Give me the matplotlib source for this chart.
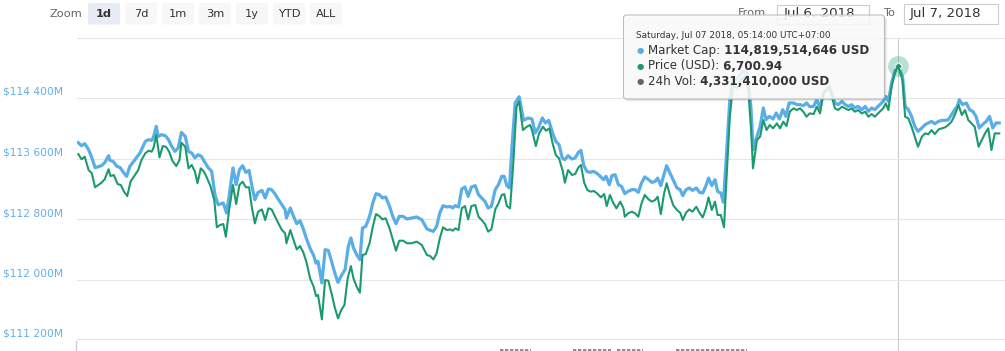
import matplotlib.pyplot as plt
import matplotlib.transforms as mtransforms
from matplotlib.patches import FancyBboxPatch, Rectangle

# minutes after Jul 6 2018 08:00 (UTC+07:00), market cap in million USD
cap_minutes = [
    2, 7, 12, 18, 23, 28, 38, 43, 49, 51,
    56, 62, 67, 72, 77, 82, 90, 98, 106, 111,
    116, 119, 123, 126, 131, 137, 142, 147, 152, 157,
    162, 168, 173, 178, 183, 188, 193, 199, 204, 209,
    214, 219, 227, 232, 236, 242, 247, 252, 257, 262,
    267, 271, 276, 281, 287, 292, 297, 302, 307, 312,
    318, 323, 325, 331, 336, 341, 346, 351, 356, 362,
    367, 371, 374, 380, 385, 390, 395, 400, 405, 411,
    416, 421, 425, 429, 434, 439, 443, 448, 454, 459,
    464, 469, 474, 479, 485, 490, 495, 500, 506, 512,
    519, 527, 535, 543, 548, 553, 558, 563, 568, 574,
    579, 583, 587, 592, 597, 602, 607, 612, 618, 623,
    628, 633, 638, 643, 649, 654, 659, 663, 667, 671,
    675, 680, 686, 693, 700, 706, 711, 716, 722, 727,
    732, 738, 743, 748, 753, 757, 762, 768, 773, 778,
    782, 786, 791, 796, 801, 806, 812, 817, 821, 826,
    830, 835, 840, 845, 850, 855, 861, 866, 871, 876,
    881, 887, 892, 897, 901, 906, 910, 915, 920, 925,
    931, 936, 940, 945, 950, 955, 961, 966, 971, 976,
    980, 985, 990, 994, 999, 1003, 1007, 1013, 1018, 1024,
    1030, 1037, 1041, 1046, 1049, 1055, 1060, 1065, 1069, 1074,
    1080, 1085, 1090, 1095, 1100, 1105, 1112, 1117, 1122, 1127,
    1132, 1137, 1143, 1148, 1153, 1158, 1163, 1168, 1176, 1181,
    1187, 1192, 1197, 1202, 1207, 1212, 1218, 1223, 1228, 1233,
    1238, 1243, 1251, 1255, 1259, 1264, 1269, 1274, 1281, 1285,
    1290, 1295, 1300, 1305, 1311, 1316, 1321, 1326, 1331, 1337,
    1342, 1347, 1352, 1357, 1362, 1366, 1369, 1374, 1380, 1385,
    1390, 1395, 1400, 1405, 1411, 1416, 1421, 1426, 1431,
]
market_cap_musd = [
    113809, 113769, 113796, 113717, 113611, 113479, 113505, 113545, 113637, 113575,
    113562, 113496, 113479, 113416, 113364, 113496, 113584, 113677, 113826, 113849,
    113840, 113892, 114025, 113888, 113915, 113902, 113849, 113760, 113694, 113739,
    113945, 113892, 113694, 113673, 113607, 113650, 113628, 113541, 113475, 113430,
    113122, 112989, 113012, 112880, 113099, 113475, 113254, 113452, 113505, 113416,
    113443, 113254, 113055, 113152, 113178, 113078, 113197, 113188, 113135, 113065,
    112989, 112923, 112813, 112946, 112835, 112738, 112778, 112672, 112540, 112407,
    112322, 112216, 112240, 111954, 112394, 112385, 112240, 112086, 111962, 112064,
    112130, 112438, 112549, 112417, 112328, 112262, 112681, 112702, 112835, 113012,
    113135, 113122, 113078, 113091, 112967, 112835, 112738, 112835, 112835, 112800,
    112813, 112827, 112791, 112668, 112650, 112636, 112702, 112880, 112976, 112959,
    112967, 112946, 112976, 112959, 113197, 113223, 113099, 113223, 113241, 113122,
    113078, 113033, 112946, 112967, 113188, 113254, 113364, 113364, 113241, 113210,
    113760, 114334, 114417, 114104, 114136, 114123, 113937, 114004, 114136, 114070,
    114104, 113937, 113826, 113783, 113607, 113584, 113637, 113594, 113607, 113681,
    113707, 113518, 113430, 113416, 113430, 113409, 113364, 113320, 113364, 113254,
    113373, 113386, 113254, 113231, 113135, 113165, 113188, 113188, 113152, 113276,
    113356, 113320, 113284, 113297, 113342, 113241, 113364, 113505, 113409, 113320,
    113210, 113188, 113108, 113188, 113210, 113178, 113210, 113152, 113144, 113241,
    113342, 113241, 113320, 113165, 113144, 113020, 113541, 114378, 114669, 114642,
    114722, 114761, 114682, 114246, 113717, 113892, 114025, 114268, 114113, 114157,
    114123, 114202, 114123, 114246, 114157, 114334, 114334, 114312, 114312, 114298,
    114334, 114285, 114289, 114378, 114268, 114466, 114510, 114554, 114334, 114312,
    114355, 114312, 114289, 114312, 114268, 114289, 114246, 114289, 114223, 114268,
    114246, 114289, 114355, 114421, 114355, 114599, 114752, 114819.5, 114686, 114289,
    114246, 114157, 114025, 113959, 114004, 114047, 114070, 114091, 114060, 114091,
    114104, 114104, 114113, 114179, 114246, 114289, 114378, 114312, 114334, 114246,
    114223, 114157, 114004, 114047, 114091, 114157, 114004, 114070, 114070,
]

# price in USD
price_minutes = [
    2, 7, 12, 18, 23, 28, 33, 38, 43, 49,
    52, 57, 63, 68, 73, 78, 83, 90, 95, 100,
    106, 111, 116, 119, 123, 128, 133, 138, 143, 148,
    154, 159, 162, 168, 173, 178, 183, 187, 192, 197,
    202, 207, 213, 217, 222, 227, 231, 236, 242, 247,
    252, 257, 262, 267, 271, 276, 281, 287, 292, 297,
    302, 307, 312, 318, 323, 325, 331, 336, 341, 346,
    351, 356, 362, 367, 371, 374, 380, 385, 390, 395,
    400, 405, 410, 415, 420, 425, 429, 434, 439, 443,
    448, 454, 459, 464, 469, 474, 479, 485, 490, 495,
    500, 506, 512, 519, 527, 535, 543, 548, 553, 558,
    563, 568, 574, 579, 583, 587, 592, 597, 602, 607,
    612, 618, 623, 628, 633, 638, 643, 649, 654, 659,
    663, 667, 672, 677, 682, 686, 692, 698, 703, 706,
    712, 717, 723, 728, 733, 738, 743, 748, 754, 757,
    762, 768, 773, 778, 782, 787, 792, 797, 802, 807,
    813, 818, 822, 827, 832, 837, 843, 848, 850, 855,
    861, 866, 871, 876, 881, 887, 892, 897, 901, 906,
    911, 915, 920, 925, 931, 936, 940, 945, 950, 955,
    961, 966, 971, 976, 980, 985, 990, 994, 999, 1004,
    1008, 1013, 1018, 1024, 1030, 1037, 1041, 1046, 1049, 1055,
    1060, 1065, 1070, 1075, 1080, 1086, 1091, 1096, 1101, 1106,
    1112, 1117, 1122, 1127, 1132, 1137, 1143, 1148, 1153, 1158,
    1163, 1168, 1176, 1181, 1187, 1192, 1197, 1202, 1207, 1212,
    1218, 1223, 1228, 1233, 1238, 1243, 1251, 1255, 1259, 1264,
    1269, 1274, 1281, 1285, 1290, 1295, 1300, 1305, 1311, 1316, 1321,
    1326, 1331, 1337, 1342, 1347, 1352, 1357, 1362, 1368, 1373,
    1378, 1383, 1388, 1393, 1399, 1404, 1409, 1414, 1419, 1424, 1431,
]
price_usd = [
    6634.9, 6631.0, 6632.9, 6622.9, 6620.5, 6610.0, 6611.7, 6613.4, 6616.0, 6623.5,
    6618.4, 6619.2, 6612.4, 6611.7, 6606.7, 6603.4, 6614.2, 6619.2, 6622.9, 6630.4,
    6635.5, 6637.4, 6636.7, 6640.0, 6649.2, 6632.4, 6640.9, 6640.4, 6636.7, 6629.9,
    6625.9, 6630.4, 6643.4, 6640.4, 6624.2, 6626.7, 6621.7, 6613.0, 6624.2, 6621.7,
    6616.7, 6610.9, 6600.4, 6580.0, 6581.7, 6582.4, 6572.9, 6592.9, 6611.7, 6597.4,
    6611.7, 6614.2, 6610.0, 6610.0, 6595.9, 6582.9, 6591.7, 6593.4, 6585.4, 6594.2,
    6593.4, 6588.4, 6583.4, 6577.9, 6575.5, 6568.0, 6577.9, 6570.4, 6563.4, 6565.9,
    6561.4, 6553.9, 6541.2, 6535.7, 6528.4, 6529.2, 6510.9, 6540.4, 6539.9, 6530.4,
    6519.9, 6511.7, 6517.9, 6521.7, 6541.7, 6550.9, 6541.7, 6535.4, 6530.9, 6559.2,
    6559.9, 6568.0, 6580.4, 6589.9, 6588.4, 6585.9, 6586.7, 6579.2, 6570.9, 6562.4,
    6569.9, 6569.9, 6568.0, 6568.0, 6569.2, 6566.7, 6559.2, 6558.4, 6555.9, 6560.4,
    6571.7, 6580.0, 6577.9, 6578.4, 6577.4, 6579.2, 6577.9, 6594.2, 6595.9, 6585.9,
    6595.9, 6596.7, 6587.9, 6585.4, 6582.4, 6576.7, 6578.4, 6593.4, 6597.9, 6604.2,
    6604.9, 6595.9, 6594.2, 6627.9, 6670.4, 6674.3, 6652.9, 6655.4, 6656.7, 6652.9,
    6640.9, 6650.4, 6655.4, 6652.4, 6654.2, 6642.9, 6634.2, 6631.7, 6621.7, 6613.4,
    6622.9, 6619.2, 6619.9, 6624.9, 6626.7, 6613.4, 6607.9, 6606.7, 6607.2, 6605.4,
    6602.4, 6604.9, 6595.9, 6604.2, 6598.4, 6594.2, 6599.2, 6594.2, 6587.9, 6590.4,
    6591.7, 6590.4, 6587.9, 6597.9, 6604.2, 6600.9, 6599.2, 6600.4, 6602.9, 6589.9,
    6605.4, 6613.0, 6604.2, 6596.7, 6592.9, 6590.9, 6585.4, 6590.9, 6593.4, 6591.7,
    6595.4, 6590.9, 6587.4, 6594.2, 6602.4, 6592.9, 6599.2, 6589.2, 6589.2, 6580.0,
    6617.9, 6662.9, 6686.7, 6684.4, 6690.4, 6693.4, 6688.2, 6652.9, 6624.2, 6645.4,
    6647.9, 6660.4, 6652.9, 6656.7, 6654.2, 6657.9, 6654.2, 6659.2, 6655.9, 6666.7,
    6669.2, 6667.9, 6669.2, 6666.7, 6662.9, 6665.4, 6664.9, 6670.4, 6665.4, 6680.4,
    6682.9, 6684.4, 6669.2, 6667.9, 6670.4, 6669.2, 6667.9, 6669.2, 6666.7, 6667.9,
    6665.4, 6666.7, 6662.9, 6664.9, 6662.9, 6665.4, 6669.2, 6672.9, 6667.9, 6685.4,
    6695.4, 6700.94, 6690.4, 6662.9, 6661.7, 6655.4, 6647.9, 6640.4, 6647.9, 6650.4, 6649.7,
    6652.9, 6649.9, 6653.4, 6654.2, 6654.9, 6656.7, 6659.2, 6664.2, 6671.7, 6664.2,
    6667.9, 6660.4, 6657.9, 6655.4, 6640.4, 6645.4, 6650.4, 6654.2, 6637.9, 6650.4, 6650.4,
]

cap_grid = [111200, 112000, 112800, 113600, 114400, 115200]
cap_labels = ['$111 200M', '$112 000M', '$112 800M', '$113 600M', '$114 400M']
cap_range = (111200, 115200)
price_range = (6495.44, 6722.32)
day_minutes = 1440

hover_minute = 1274
hover_time = 'Saturday, Jul 07 2018, 05:14:00 UTC+07:00'
hover_cap = 114819.514646
hover_price = 6700.94
hover_volume = 4331410000

zoom_buttons = ['1d', '7d', '1m', '3m', '1y', 'YTD', 'ALL']
active_button = '1d'
date_from = 'Jul 6, 2018'
date_to = 'Jul 7, 2018'
# volume bars peeking out of the navigator (start, end minute)
nav_volume_spans = [(656, 704), (770, 829), (838, 878), (929, 1040)]

W, H = 1005, 351
BLUE = '#5aaee8'
GREEN = '#1c9a6f'
TXT = '#333333'

fig = plt.figure(figsize=(W / 100, H / 100), dpi=100)

# page furniture, pixel coords with origin top-left
ui = fig.add_axes([0, 0, 1, 1])
ui.set_xlim(0, W)
ui.set_ylim(H, 0)
ui.axis('off')

ui.text(50, 14, 'Zoom', fontsize=8.2, color='#666666', va='center')
for i, label in enumerate(zoom_buttons):
    x0 = 88 + i * 37
    active = label == active_button
    ui.add_patch(FancyBboxPatch((x0, 3), 32, 21.5, boxstyle='round,pad=0,rounding_size=2',
                                fc='#e6ebf5' if active else '#f7f7f7', ec='none'))
    ui.text(x0 + 16, 14, label, ha='center', va='center', fontsize=8.2, color=TXT,
            fontweight='bold' if active else 'normal')

ui.text(738, 13, 'From', fontsize=8.2, color='#666666', va='center')
ui.add_patch(Rectangle((776.5, 4.5), 92, 19.5, fc='white', ec='#cccccc', lw=0.8))
ui.text(819, 14, date_from, ha='center', va='center', fontsize=9.6, color=TXT)
ui.text(883, 13.5, 'To', fontsize=8.2, color='#666666', va='center')
ui.add_patch(Rectangle((903.5, 3.5), 94, 20.5, fc='white', ec='#cccccc', lw=0.8))
ui.text(945, 14, date_to, ha='center', va='center', fontsize=9.6, color=TXT)
ui.plot([75.5, 75.5], [341, 351], color='#c5cde0', lw=1)

# chart
ax = fig.add_axes([77 / W, (H - 340) / H, (W - 77) / W, (340 - 37.5) / H])
ax.patch.set_visible(False)
ax.set_xlim(0, day_minutes)
ax.set_ylim(*cap_range)
ax.set_yticks(cap_grid)
ax.set_xticks([])
ax.tick_params(length=0, labelleft=False)
ax.grid(axis='y', color='#e6e6e6', lw=0.8)
for s in ax.spines.values():
    s.set_visible(False)
ax.axhline(cap_range[0], color='#dcdcdc', lw=1.2, zorder=1)

lab_trans = mtransforms.blended_transform_factory(ui.transData, ax.transData)
lab_trans = mtransforms.offset_copy(lab_trans, fig=fig, y=6, units='dots')
for value, label in zip(cap_grid, cap_labels):
    ax.text(3, value, label, transform=lab_trans, fontsize=7.7, color='#62afe6',
            va='center', ha='left', clip_on=False)

ax.axvline(hover_minute, ymin=-11 / 302.5, ymax=1, color='#cccccc', lw=0.8,
           clip_on=False, zorder=1)
ax.plot(cap_minutes, market_cap_musd, color=BLUE, lw=2.3, zorder=2,
        solid_joinstyle='round')

ax2 = ax.twinx()
ax2.set_ylim(*price_range)
ax2.axis('off')
ax2.plot(price_minutes, price_usd, color=GREEN, lw=1.5, zorder=3, solid_joinstyle='round')
ax2.plot([hover_minute], [hover_price], 'o', ms=15, color=GREEN, alpha=0.3, mec='none')
ax2.plot([hover_minute], [hover_price], 'D', ms=4, color=GREEN, mec='white', mew=0.7)

nav = fig.add_axes([77 / W, 0, (W - 77) / W, 10 / H])
nav.set_xlim(0, day_minutes)
nav.set_ylim(0, 10)
nav.axis('off')
for a, b in nav_volume_spans:
    nav.hlines(1, a, b, color='#777777', lw=1.2, linestyles=(0, (2, 1)))

# tooltip
tip = fig.add_axes([0, 0, 1, 1], zorder=5)
tip.set_xlim(0, W)
tip.set_ylim(H, 0)
tip.axis('off')
for off, alpha in [(3, 0.03), (2, 0.05), (1, 0.08)]:
    tip.add_patch(FancyBboxPatch((623.5 + off, 15 + off), 261, 84,
                                 boxstyle='round,pad=0,rounding_size=3',
                                 fc=(0, 0, 0, alpha), ec='none'))
tip.add_patch(FancyBboxPatch((623.5, 15), 261, 84, boxstyle='round,pad=0,rounding_size=3',
                             fc=(1, 1, 1, 0.86), ec='#bdbdbd', lw=0.8))
tip.text(636.5, 35, hover_time, fontsize=6.4, color=TXT, va='center')

rows = [
    (BLUE, 'Market Cap:', f' {hover_cap * 1e6:,.0f} USD', 50.7),
    (GREEN, 'Price (USD):', f' {hover_price:,.2f}', 66),
    ('#666666', '24h Vol:', f' {hover_volume:,} USD', 81.7),
]
for color, label, value, y in rows:
    tip.text(637, y, '\u25cf', fontsize=6, color=color, va='center')
    t = tip.text(648, y, label, fontsize=8.6, color=TXT, va='center')
    tip.annotate(value, xy=(1, 0.5), xycoords=t, va='center', ha='left',
                 fontsize=8.6, color=TXT, fontweight='bold')

fig.savefig('out.png', dpi=100)
